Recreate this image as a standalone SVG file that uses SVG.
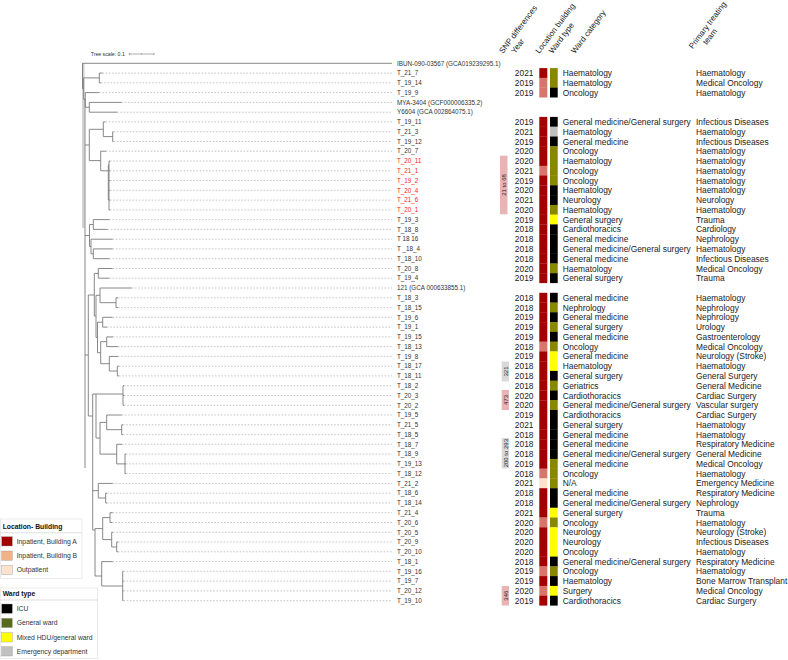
<svg xmlns="http://www.w3.org/2000/svg" width="788" height="660" viewBox="0 0 788 660">
<style>
text{font-family:"Liberation Sans",Arial,sans-serif}
.br{stroke:#7a7a7a;stroke-width:0.9;fill:none}
.bg{stroke:#cfcfcf;stroke-width:2.4;fill:none}
.ld{stroke:#b8b8b8;stroke-width:0.8;stroke-dasharray:1.6 1.6;fill:none}
.lab{font-size:6.3px;fill:#333}
.red{fill:#ff1a1a}
.tb{font-size:8.4px;fill:#222}
.yr{text-anchor:end}
.hd{font-size:8px;fill:#222}
.A{fill:#a30000}.B{fill:#d5776c}.O{fill:#fde3cd}
.icu{fill:#000}.gw{fill:#878700}.hdu{fill:#ffff00}.ed{fill:#c0c0c0}
.snp{font-size:6px;fill:#222;text-anchor:middle}
.lg{font-size:6.8px;fill:#333}
.lgt{font-size:6.8px;font-weight:bold;fill:#111}
.sw{stroke:#999;stroke-width:0.4}
</style>
<rect width="788" height="660" fill="#fff"/>

<!-- tree scale -->
<g id="tree-scale">
<text x="90.7" y="55.6" style="font-size:5.2px;fill:#333">Tree scale: 0.1</text>
<path d="M129.3,54H154M129.3,52.8V55.2M141.6,53.3V54.7M154,52.8V55.2" stroke="#777" stroke-width="0.6" fill="none"/>
</g>

<!-- headers -->
<g id="headers" class="hd">
<text transform="translate(503,54) rotate(-53)">SNP differences</text>
<text transform="translate(515,54) rotate(-53)">Year</text>
<text transform="translate(539.3,54) rotate(-53)">Location building</text>
<text transform="translate(552.7,54) rotate(-53)">Ward type</text>
<text transform="translate(575,54) rotate(-53)">Ward  category</text>
<text transform="translate(692.7,49.3) rotate(-53)">Primary treating<tspan x="11.6" dy="8.8">team</tspan></text>
</g>

<!-- connectors: tree branches -->
<g id="connectors">
<path class="bg" d="M83.3,63.3V228"/>
<path class="br" d="M82.5,63.3H392M82.5,63.3V88.6M82.5,88.6H83.7
M83.7,77.9V99.3M83.7,77.9H99.3M99.3,73.1V82.8M99.3,73.1H102.5M99.3,82.8H101
M83.7,99.3H85.3M85.3,92.6V107.3M85.3,92.6H99.3
M85.3,107.3H89.3M89.3,102.4V112.2M89.3,102.4H121.7M89.3,112.2H117.3
M85,99.3V468
M85,145H89.3M89.3,129.3V160.6
M89.3,129.3H103.3M103.3,121.9V136.6M103.3,121.9H105.5M103.3,136.6H112.7M112.7,131.7V141.5M112.7,131.7H113.5M112.7,141.5H113.5
M89.3,160.6H100.7M100.7,151.2V170.8M100.7,151.2H106M100.7,170.8H108.3M108.3,165V200M108.3,165H109M108.3,200H109M109,161V209.9
M109,161H110M109,170.8H110M109,180.5H110M109,190.3H110M109,200.1H110M109,209.9H110
M85,235.5H89.5M89.5,224.5V246.5M89.5,224.5H93.3M93.3,219.6V229.4M93.3,219.6H109.3M93.3,229.4H107.7
M89.5,246.5H91M91,239.2V253.8M91,239.2H112.7M91,253.8H93.3M93.3,248.9V258.7M93.3,248.9H112.7M93.3,258.7H109.3
M85,355H88.3M88.3,295V416M88.3,295H94.3M94.3,273.4V316M94.3,273.4H98.3M98.3,268.5V278.2M98.3,268.5H112.7M98.3,278.2H109.3
M94.3,316H96M96,295.3V337.5M96,295.3H100M100,288V302.7M100,288H131.7M100,302.7H116M116,297.8V307.6M116,297.8H118M116,307.6H118
M96,337.5H97.5M97.5,322.2V352.7M97.5,322.2H102.7M102.7,317.3V327.1M102.7,317.3H112.7M102.7,327.1H107
M97.5,352.7H100.7M100.7,341.7V363.7M100.7,341.7H106.7M106.7,336.9V346.6M106.7,336.9H113M106.7,346.6H118
M100.7,363.7H109.3M109.3,356.4V371M109.3,356.4H118M109.3,371H117.3M117.3,366.2V375.9M117.3,366.2H119M117.3,375.9H119
M88.3,416H92.7M92.7,394V530M92.7,394H96M96,394V438
M96,394H123M123,385.7V405.3M123,385.7H124M123,395.5H124M123,405.3H124
M96,438H100M100,422.4V454.1
M100,422.4H106.7M106.7,415V429.7M106.7,415H121.7M106.7,429.7H121.7M121.7,424.8V434.6M121.7,424.8H123M121.7,434.6H123
M100,454.1H116.7M116.7,444.3V463.9M116.7,444.3H122M116.7,463.9H125M125,454.1V473.6M125,454.1H126M125,463.9H126M125,473.6H126
M92.7,490.7H98.3M98.3,483.4V498M98.3,483.4H112.7M98.3,498H105.7M105.7,493.2V503M105.7,493.2H107M105.7,503H107
M92.7,530H95M95,528.6V576M95,528.6H102.7M102.7,517.6V539.6M102.7,517.6H110M110,512.7V522.5M110,512.7H112.7M110,522.5H112
M102.7,539.6H111.7M111.7,532.3V547M111.7,532.3H113M111.7,547H116.7M116.7,542V551.8M116.7,542H118M116.7,551.8H118
M95,576H101.7M101.7,561.6V586M101.7,561.6H112.7M101.7,586H122.7M122.7,571.3V600.7
M122.7,571.3H123.5M122.7,581.1H123.5M122.7,590.9H123.5M122.7,600.7H123.5"/>
<path class="ld" d="M102.5,73.1H392M101,82.8H392M99.3,92.6H392M121.7,102.4H392M117.3,112.2H392
M105.5,121.9H392M113.5,131.7H392M113.5,141.5H392M106,151.2H392M110,161H392M110,170.8H392M110,180.5H392M110,190.3H392M110,200.1H392M110,209.9H392
M109.3,219.6H392M107.7,229.4H392M112.7,239.2H392M112.7,248.9H392M109.3,258.7H392M112.7,268.5H392M109.3,278.2H392M131.7,288H392
M118,297.8H392M118,307.6H392M112.7,317.3H392M107,327.1H392M113,336.9H392M118,346.6H392M118,356.4H392M119,366.2H392M119,375.9H392
M124,385.7H392M124,395.5H392M124,405.3H392M121.7,415H392M123,424.8H392M123,434.6H392M122,444.3H392M126,454.1H392M126,463.9H392M126,473.6H392
M112.7,483.4H392M107,493.2H392M107,503H392M112.7,512.7H392M112,522.5H392M113,532.3H392M118,542H392M118,551.8H392
M112.7,561.6H392M123.5,571.3H392M123.5,581.1H392M123.5,590.9H392M123.5,600.7H392"/>
</g>

<!-- leaf labels -->
<g id="leaves" class="lab">
<g id="n-IBUN"><text x="397" y="65.5">IBUN-090-03567 (GCA019239295.1)</text></g>
<g id="n-T_21_7"><text x="397" y="75.3">T_21_7</text></g>
<g id="n-T_19_14"><text x="397" y="85">T_19_14</text></g>
<g id="n-T_19_9"><text x="397" y="94.8">T_19_9</text></g>
<g id="n-MYA-3404"><text x="397" y="104.6">MYA-3404 (GCF000006335.2)</text></g>
<g id="n-Y6604"><text x="397" y="114.4">Y6604 (GCA 002864075.1)</text></g>
<g id="n-T_19_11"><text x="397" y="124.1">T_19_11</text></g>
<g id="n-T_21_3"><text x="397" y="133.9">T_21_3</text></g>
<g id="n-T_19_12"><text x="397" y="143.7">T_19_12</text></g>
<g id="n-T_20_7"><text x="397" y="153.4">T_20_7</text></g>
<g id="n-T_20_11"><text class="red" x="397" y="163.2">T_20_11</text></g>
<g id="n-T_21_1"><text class="red" x="397" y="173">T_21_1</text></g>
<g id="n-T_19_2"><text class="red" x="397" y="182.7">T_19_2</text></g>
<g id="n-T_20_4"><text class="red" x="397" y="192.5">T_20_4</text></g>
<g id="n-T_21_6"><text class="red" x="397" y="202.3">T_21_6</text></g>
<g id="n-T_20_1"><text class="red" x="397" y="212.1">T_20_1</text></g>
<g id="n-T_19_3"><text x="397" y="221.8">T_19_3</text></g>
<g id="n-T_18_8"><text x="397" y="231.6">T_18_8</text></g>
<g id="n-T_18_16"><text x="397" y="241.4">T 18 16</text></g>
<g id="n-T_18_4"><text x="397" y="251.1">T _18_4</text></g>
<g id="n-T_18_10"><text x="397" y="260.9">T_18_10</text></g>
<g id="n-T_20_8"><text x="397" y="270.7">T_20_8</text></g>
<g id="n-T_19_4"><text x="397" y="280.4">T_19_4</text></g>
<g id="n-121"><text x="397" y="290.2">121 (GCA 000633855.1)</text></g>
<g id="n-T_18_3"><text x="397" y="300">T_18_3</text></g>
<g id="n-T_18_15"><text x="397" y="309.8">T_18_15</text></g>
<g id="n-T_19_6"><text x="397" y="319.5">T_19_6</text></g>
<g id="n-T_19_1"><text x="397" y="329.3">T_19_1</text></g>
<g id="n-T_19_15"><text x="397" y="339.1">T_19_15</text></g>
<g id="n-T_18_13"><text x="397" y="348.8">T_18_13</text></g>
<g id="n-T_19_8"><text x="397" y="358.6">T_19_8</text></g>
<g id="n-T_18_17"><text x="397" y="368.4">T_18_17</text></g>
<g id="n-T_18_11"><text x="397" y="378.1">T_18_11</text></g>
<g id="n-T_18_2"><text x="397" y="387.9">T_18_2</text></g>
<g id="n-T_20_3"><text x="397" y="397.7">T_20_3</text></g>
<g id="n-T_20_2"><text x="397" y="407.5">T_20_2</text></g>
<g id="n-T_19_5"><text x="397" y="417.2">T_19_5</text></g>
<g id="n-T_21_5"><text x="397" y="427">T_21_5</text></g>
<g id="n-T_18_5"><text x="397" y="436.8">T_18_5</text></g>
<g id="n-T_18_7"><text x="397" y="446.5">T_18_7</text></g>
<g id="n-T_18_9"><text x="397" y="456.3">T_18_9</text></g>
<g id="n-T_19_13"><text x="397" y="466.1">T_19_13</text></g>
<g id="n-T_18_12"><text x="397" y="475.8">T_18_12</text></g>
<g id="n-T_21_2"><text x="397" y="485.6">T_21_2</text></g>
<g id="n-T_18_6"><text x="397" y="495.4">T_18_6</text></g>
<g id="n-T_18_14"><text x="397" y="505.2">T_18_14</text></g>
<g id="n-T_21_4"><text x="397" y="514.9">T_21_4</text></g>
<g id="n-T_20_6"><text x="397" y="524.7">T_20_6</text></g>
<g id="n-T_20_5"><text x="397" y="534.5">T_20_5</text></g>
<g id="n-T_20_9"><text x="397" y="544.2">T_20_9</text></g>
<g id="n-T_20_10"><text x="397" y="554">T_20_10</text></g>
<g id="n-T_18_1"><text x="397" y="563.8">T_18_1</text></g>
<g id="n-T_19_16"><text x="397" y="573.5">T_19_16</text></g>
<g id="n-T_19_7"><text x="397" y="583.3">T_19_7</text></g>
<g id="n-T_20_12"><text x="397" y="593.1">T_20_12</text></g>
<g id="n-T_19_10"><text x="397" y="602.9">T_19_10</text></g>
</g>

<!-- SNP difference boxes -->
<g id="snp">
<rect x="500" y="155.7" width="7.5" height="58.6" fill="#e8b4b4"/>
<text class="snp" transform="translate(505.9,185) rotate(-90)">21 to 68</text>
<rect x="501.7" y="361.5" width="7.3" height="20" fill="#d9d9d9"/>
<text class="snp" transform="translate(507.5,371.5) rotate(-90)">321</text>
<rect x="501.7" y="390" width="7.3" height="20" fill="#e8b4b4"/>
<text class="snp" transform="translate(507.5,400) rotate(-90)">473</text>
<rect x="501.7" y="438" width="7.3" height="30.4" fill="#d9d9d9"/>
<text class="snp" transform="translate(507.5,453.2) rotate(-90)">200 to 293</text>
<rect x="501.7" y="586" width="7.3" height="19.5" fill="#e8b4b4"/>
<text class="snp" transform="translate(507.5,595.7) rotate(-90)">346</text>
</g>

<!-- data table -->
<g id="table" class="tb">
<g id="r-T_21_7" transform="translate(0,73.1)"><rect class="A" x="539.3" y="-5" width="8" height="10"/><rect class="gw" x="550" y="-5" width="7.7" height="10"/><text class="yr" x="533.5" y="3">2021</text><text x="562.7" y="3">Haematology</text><text x="696" y="3">Haematology</text></g>
<g id="r-T_19_14" transform="translate(0,82.8)"><rect class="B" x="539.3" y="-5" width="8" height="10"/><rect class="gw" x="550" y="-5" width="7.7" height="10"/><text class="yr" x="533.5" y="3">2019</text><text x="562.7" y="3">Haematology</text><text x="696" y="3">Medical Oncology</text></g>
<g id="r-T_19_9" transform="translate(0,92.6)"><rect class="B" x="539.3" y="-5" width="8" height="9.9"/><rect class="icu" x="550" y="-5" width="7.7" height="9.9"/><text class="yr" x="533.5" y="3">2019</text><text x="562.7" y="3">Oncology</text><text x="696" y="3">Haematology</text></g>

<g id="r-T_19_11" transform="translate(0,121.9)"><rect class="A" x="539.3" y="-5" width="8" height="10"/><rect class="icu" x="550" y="-5" width="7.7" height="10"/><text class="yr" x="533.5" y="3">2019</text><text x="562.7" y="3">General medicine/General surgery</text><text x="696" y="3">Infectious Diseases</text></g>
<g id="r-T_21_3" transform="translate(0,131.7)"><rect class="A" x="539.3" y="-5" width="8" height="10"/><rect class="ed" x="550" y="-5" width="7.7" height="10"/><text class="yr" x="533.5" y="3">2021</text><text x="562.7" y="3">Haematology</text><text x="696" y="3">Haematology</text></g>
<g id="r-T_19_12" transform="translate(0,141.5)"><rect class="A" x="539.3" y="-5" width="8" height="10"/><rect class="icu" x="550" y="-5" width="7.7" height="10"/><text class="yr" x="533.5" y="3">2019</text><text x="562.7" y="3">General medicine</text><text x="696" y="3">Infectious Diseases</text></g>
<g id="r-T_20_7" transform="translate(0,151.2)"><rect class="A" x="539.3" y="-5" width="8" height="10"/><rect class="gw" x="550" y="-5" width="7.7" height="10"/><text class="yr" x="533.5" y="3">2020</text><text x="562.7" y="3">Oncology</text><text x="696" y="3">Haematology</text></g>
<g id="r-T_20_11" transform="translate(0,161)"><rect class="A" x="539.3" y="-5" width="8" height="10"/><rect class="gw" x="550" y="-5" width="7.7" height="10"/><text class="yr" x="533.5" y="3">2020</text><text x="562.7" y="3">Haematology</text><text x="696" y="3">Haematology</text></g>
<g id="r-T_21_1" transform="translate(0,170.8)"><rect class="B" x="539.3" y="-5" width="8" height="10"/><rect class="gw" x="550" y="-5" width="7.7" height="10"/><text class="yr" x="533.5" y="3">2021</text><text x="562.7" y="3">Oncology</text><text x="696" y="3">Haematology</text></g>
<g id="r-T_19_2" transform="translate(0,180.5)"><rect class="A" x="539.3" y="-5" width="8" height="10"/><rect class="gw" x="550" y="-5" width="7.7" height="10"/><text class="yr" x="533.5" y="3">2019</text><text x="562.7" y="3">Oncology</text><text x="696" y="3">Haematology</text></g>
<g id="r-T_20_4" transform="translate(0,190.3)"><rect class="A" x="539.3" y="-5" width="8" height="10"/><rect class="icu" x="550" y="-5" width="7.7" height="10"/><text class="yr" x="533.5" y="3">2020</text><text x="562.7" y="3">Haematology</text><text x="696" y="3">Haematology</text></g>
<g id="r-T_21_6" transform="translate(0,200.1)"><rect class="A" x="539.3" y="-5" width="8" height="10"/><rect class="icu" x="550" y="-5" width="7.7" height="10"/><text class="yr" x="533.5" y="3">2021</text><text x="562.7" y="3">Neurology</text><text x="696" y="3">Neurology</text></g>
<g id="r-T_20_1" transform="translate(0,209.9)"><rect class="A" x="539.3" y="-5" width="8" height="10"/><rect class="gw" x="550" y="-5" width="7.7" height="10"/><text class="yr" x="533.5" y="3">2020</text><text x="562.7" y="3">Haematology</text><text x="696" y="3">Haematology</text></g>
<g id="r-T_19_3" transform="translate(0,219.6)"><rect class="A" x="539.3" y="-5" width="8" height="10"/><rect class="hdu" x="550" y="-5" width="7.7" height="10"/><text class="yr" x="533.5" y="3">2019</text><text x="562.7" y="3">General surgery</text><text x="696" y="3">Trauma</text></g>
<g id="r-T_18_8" transform="translate(0,229.4)"><rect class="A" x="539.3" y="-5" width="8" height="10"/><rect class="icu" x="550" y="-5" width="7.7" height="10"/><text class="yr" x="533.5" y="3">2018</text><text x="562.7" y="3">Cardiothoracics</text><text x="696" y="3">Cardiology</text></g>
<g id="r-T_18_16" transform="translate(0,239.2)"><rect class="A" x="539.3" y="-5" width="8" height="10"/><rect class="icu" x="550" y="-5" width="7.7" height="10"/><text class="yr" x="533.5" y="3">2018</text><text x="562.7" y="3">General medicine</text><text x="696" y="3">Nephrology</text></g>
<g id="r-T_18_4" transform="translate(0,248.9)"><rect class="A" x="539.3" y="-5" width="8" height="10"/><rect class="icu" x="550" y="-5" width="7.7" height="10"/><text class="yr" x="533.5" y="3">2018</text><text x="562.7" y="3">General medicine/General surgery</text><text x="696" y="3">Haematology</text></g>
<g id="r-T_18_10" transform="translate(0,258.7)"><rect class="A" x="539.3" y="-5" width="8" height="10"/><rect class="icu" x="550" y="-5" width="7.7" height="10"/><text class="yr" x="533.5" y="3">2018</text><text x="562.7" y="3">General medicine</text><text x="696" y="3">Infectious Diseases</text></g>
<g id="r-T_20_8" transform="translate(0,268.5)"><rect class="A" x="539.3" y="-5" width="8" height="10"/><rect class="gw" x="550" y="-5" width="7.7" height="10"/><text class="yr" x="533.5" y="3">2020</text><text x="562.7" y="3">Haematology</text><text x="696" y="3">Medical Oncology</text></g>
<g id="r-T_19_4" transform="translate(0,278.2)"><rect class="A" x="539.3" y="-5" width="8" height="9.9"/><rect class="icu" x="550" y="-5" width="7.7" height="9.9"/><text class="yr" x="533.5" y="3">2019</text><text x="562.7" y="3">General surgery</text><text x="696" y="3">Trauma</text></g>

<g id="r-T_18_3" transform="translate(0,297.8)"><rect class="A" x="539.3" y="-5" width="8" height="10"/><rect class="icu" x="550" y="-5" width="7.7" height="10"/><text class="yr" x="533.5" y="3">2018</text><text x="562.7" y="3">General medicine</text><text x="696" y="3">Haematology</text></g>
<g id="r-T_18_15" transform="translate(0,307.6)"><rect class="A" x="539.3" y="-5" width="8" height="10"/><rect class="gw" x="550" y="-5" width="7.7" height="10"/><text class="yr" x="533.5" y="3">2018</text><text x="562.7" y="3">Nephrology</text><text x="696" y="3">Nephrology</text></g>
<g id="r-T_19_6" transform="translate(0,317.3)"><rect class="A" x="539.3" y="-5" width="8" height="10"/><rect class="icu" x="550" y="-5" width="7.7" height="10"/><text class="yr" x="533.5" y="3">2019</text><text x="562.7" y="3">General medicine</text><text x="696" y="3">Nephrology</text></g>
<g id="r-T_19_1" transform="translate(0,327.1)"><rect class="A" x="539.3" y="-5" width="8" height="10"/><rect class="gw" x="550" y="-5" width="7.7" height="10"/><text class="yr" x="533.5" y="3">2019</text><text x="562.7" y="3">General surgery</text><text x="696" y="3">Urology</text></g>
<g id="r-T_19_15" transform="translate(0,336.9)"><rect class="A" x="539.3" y="-5" width="8" height="10"/><rect class="icu" x="550" y="-5" width="7.7" height="10"/><text class="yr" x="533.5" y="3">2019</text><text x="562.7" y="3">General medicine</text><text x="696" y="3">Gastroenterology</text></g>
<g id="r-T_18_13" transform="translate(0,346.6)"><rect class="B" x="539.3" y="-5" width="8" height="10"/><rect class="gw" x="550" y="-5" width="7.7" height="10"/><text class="yr" x="533.5" y="3">2018</text><text x="562.7" y="3">Oncology</text><text x="696" y="3">Medical Oncology</text></g>
<g id="r-T_19_8" transform="translate(0,356.4)"><rect class="A" x="539.3" y="-5" width="8" height="10"/><rect class="hdu" x="550" y="-5" width="7.7" height="10"/><text class="yr" x="533.5" y="3">2019</text><text x="562.7" y="3">General medicine</text><text x="696" y="3">Neurology (Stroke)</text></g>
<g id="r-T_18_17" transform="translate(0,366.2)"><rect class="A" x="539.3" y="-5" width="8" height="10"/><rect class="hdu" x="550" y="-5" width="7.7" height="10"/><text class="yr" x="533.5" y="3">2018</text><text x="562.7" y="3">Haematology</text><text x="696" y="3">Haematology</text></g>
<g id="r-T_18_11" transform="translate(0,375.9)"><rect class="A" x="539.3" y="-5" width="8" height="10"/><rect class="icu" x="550" y="-5" width="7.7" height="10"/><text class="yr" x="533.5" y="3">2018</text><text x="562.7" y="3">General surgery</text><text x="696" y="3">General Surgery</text></g>
<g id="r-T_18_2" transform="translate(0,385.7)"><rect class="A" x="539.3" y="-5" width="8" height="10"/><rect class="gw" x="550" y="-5" width="7.7" height="10"/><text class="yr" x="533.5" y="3">2018</text><text x="562.7" y="3">Geriatrics</text><text x="696" y="3">General Medicine</text></g>
<g id="r-T_20_3" transform="translate(0,395.5)"><rect class="A" x="539.3" y="-5" width="8" height="10"/><rect class="icu" x="550" y="-5" width="7.7" height="10"/><text class="yr" x="533.5" y="3">2020</text><text x="562.7" y="3">Cardiothoracics</text><text x="696" y="3">Cardiac Surgery</text></g>
<g id="r-T_20_2" transform="translate(0,405.3)"><rect class="A" x="539.3" y="-5" width="8" height="10"/><rect class="gw" x="550" y="-5" width="7.7" height="10"/><text class="yr" x="533.5" y="3">2020</text><text x="562.7" y="3">General medicine/General surgery</text><text x="696" y="3">Vascular surgery</text></g>
<g id="r-T_19_5" transform="translate(0,415)"><rect class="A" x="539.3" y="-5" width="8" height="10"/><rect class="icu" x="550" y="-5" width="7.7" height="10"/><text class="yr" x="533.5" y="3">2019</text><text x="562.7" y="3">Cardiothoracics</text><text x="696" y="3">Cardiac Surgery</text></g>
<g id="r-T_21_5" transform="translate(0,424.8)"><rect class="A" x="539.3" y="-5" width="8" height="10"/><rect class="icu" x="550" y="-5" width="7.7" height="10"/><text class="yr" x="533.5" y="3">2021</text><text x="562.7" y="3">General surgery</text><text x="696" y="3">Haematology</text></g>
<g id="r-T_18_5" transform="translate(0,434.6)"><rect class="A" x="539.3" y="-5" width="8" height="10"/><rect class="icu" x="550" y="-5" width="7.7" height="10"/><text class="yr" x="533.5" y="3">2018</text><text x="562.7" y="3">General medicine</text><text x="696" y="3">Haematology</text></g>
<g id="r-T_18_7" transform="translate(0,444.3)"><rect class="A" x="539.3" y="-5" width="8" height="10"/><rect class="icu" x="550" y="-5" width="7.7" height="10"/><text class="yr" x="533.5" y="3">2018</text><text x="562.7" y="3">General medicine</text><text x="696" y="3">Respiratory Medicine</text></g>
<g id="r-T_18_9" transform="translate(0,454.1)"><rect class="A" x="539.3" y="-5" width="8" height="10"/><rect class="icu" x="550" y="-5" width="7.7" height="10"/><text class="yr" x="533.5" y="3">2018</text><text x="562.7" y="3">General medicine/General surgery</text><text x="696" y="3">General Medicine</text></g>
<g id="r-T_19_13" transform="translate(0,463.9)"><rect class="A" x="539.3" y="-5" width="8" height="10"/><rect class="gw" x="550" y="-5" width="7.7" height="10"/><text class="yr" x="533.5" y="3">2019</text><text x="562.7" y="3">General medicine</text><text x="696" y="3">Medical Oncology</text></g>
<g id="r-T_18_12" transform="translate(0,473.6)"><rect class="B" x="539.3" y="-5" width="8" height="10"/><rect class="gw" x="550" y="-5" width="7.7" height="10"/><text class="yr" x="533.5" y="3">2018</text><text x="562.7" y="3">Oncology</text><text x="696" y="3">Haematology</text></g>
<g id="r-T_21_2" transform="translate(0,483.4)"><rect class="O" x="539.3" y="-5" width="8" height="10"/><rect class="gw" x="550" y="-5" width="7.7" height="10"/><text class="yr" x="533.5" y="3">2021</text><text x="562.7" y="3">N/A</text><text x="696" y="3">Emergency Medicine</text></g>
<g id="r-T_18_6" transform="translate(0,493.2)"><rect class="A" x="539.3" y="-5" width="8" height="10"/><rect class="icu" x="550" y="-5" width="7.7" height="10"/><text class="yr" x="533.5" y="3">2018</text><text x="562.7" y="3">General medicine</text><text x="696" y="3">Respiratory Medicine</text></g>
<g id="r-T_18_14" transform="translate(0,503)"><rect class="A" x="539.3" y="-5" width="8" height="10"/><rect class="icu" x="550" y="-5" width="7.7" height="10"/><text class="yr" x="533.5" y="3">2018</text><text x="562.7" y="3">General medicine/General surgery</text><text x="696" y="3">Nephrology</text></g>
<g id="r-T_21_4" transform="translate(0,512.7)"><rect class="A" x="539.3" y="-5" width="8" height="10"/><rect class="hdu" x="550" y="-5" width="7.7" height="10"/><text class="yr" x="533.5" y="3">2021</text><text x="562.7" y="3">General surgery</text><text x="696" y="3">Trauma</text></g>
<g id="r-T_20_6" transform="translate(0,522.5)"><rect class="B" x="539.3" y="-5" width="8" height="10"/><rect class="gw" x="550" y="-5" width="7.7" height="10"/><text class="yr" x="533.5" y="3">2020</text><text x="562.7" y="3">Oncology</text><text x="696" y="3">Haematology</text></g>
<g id="r-T_20_5" transform="translate(0,532.3)"><rect class="A" x="539.3" y="-5" width="8" height="10"/><rect class="hdu" x="550" y="-5" width="7.7" height="10"/><text class="yr" x="533.5" y="3">2020</text><text x="562.7" y="3">Neurology</text><text x="696" y="3">Neurology (Stroke)</text></g>
<g id="r-T_20_9" transform="translate(0,542)"><rect class="A" x="539.3" y="-5" width="8" height="10"/><rect class="hdu" x="550" y="-5" width="7.7" height="10"/><text class="yr" x="533.5" y="3">2020</text><text x="562.7" y="3">Neurology</text><text x="696" y="3">Infectious Diseases</text></g>
<g id="r-T_20_10" transform="translate(0,551.8)"><rect class="A" x="539.3" y="-5" width="8" height="10"/><rect class="hdu" x="550" y="-5" width="7.7" height="10"/><text class="yr" x="533.5" y="3">2020</text><text x="562.7" y="3">Oncology</text><text x="696" y="3">Haematology</text></g>
<g id="r-T_18_1" transform="translate(0,561.6)"><rect class="A" x="539.3" y="-5" width="8" height="10"/><rect class="icu" x="550" y="-5" width="7.7" height="10"/><text class="yr" x="533.5" y="3">2018</text><text x="562.7" y="3">General medicine/General surgery</text><text x="696" y="3">Respiratory Medicine</text></g>
<g id="r-T_19_16" transform="translate(0,571.3)"><rect class="B" x="539.3" y="-5" width="8" height="10"/><rect class="gw" x="550" y="-5" width="7.7" height="10"/><text class="yr" x="533.5" y="3">2019</text><text x="562.7" y="3">Oncology</text><text x="696" y="3">Haematology</text></g>
<g id="r-T_19_7" transform="translate(0,581.1)"><rect class="A" x="539.3" y="-5" width="8" height="10"/><rect class="icu" x="550" y="-5" width="7.7" height="10"/><text class="yr" x="533.5" y="3">2019</text><text x="562.7" y="3">Haematology</text><text x="696" y="3">Bone Marrow Transplant</text></g>
<g id="r-T_20_12" transform="translate(0,590.9)"><rect class="B" x="539.3" y="-5" width="8" height="10"/><rect class="hdu" x="550" y="-5" width="7.7" height="10"/><text class="yr" x="533.5" y="3">2020</text><text x="562.7" y="3">Surgery</text><text x="696" y="3">Medical Oncology</text></g>
<g id="r-T_19_10" transform="translate(0,600.7)"><rect class="A" x="539.3" y="-5" width="8" height="9.9"/><rect class="icu" x="550" y="-5" width="7.7" height="9.9"/><text class="yr" x="533.5" y="3">2019</text><text x="562.7" y="3">Cardiothoracics</text><text x="696" y="3">Cardiac Surgery</text></g>
</g>

<!-- legends -->
<g id="legend-location">
<rect x="0.5" y="519" width="81.5" height="59.5" fill="#fff" stroke="#e3e3e3" stroke-width="0.7"/>
<text class="lgt" x="2.7" y="529.3">Location- Building</text>
<line x1="0.5" y1="532.8" x2="82" y2="532.8" stroke="#c8c8c8" stroke-width="0.6"/>
<rect class="sw" x="1.7" y="536.7" width="10.6" height="9.3" fill="#a30000"/>
<text class="lg" x="16.7" y="543.8">Inpatient, Building A</text>
<rect class="sw" x="1.7" y="551" width="10.6" height="9.3" fill="#f4b183"/>
<text class="lg" x="16.7" y="558.1">Inpatient, Building B</text>
<rect class="sw" x="1.7" y="565.3" width="10.6" height="9.3" fill="#fde3cd"/>
<text class="lg" x="16.7" y="572.4">Outpatient</text>
</g>
<g id="legend-ward">
<rect x="0.5" y="588" width="97" height="70.5" fill="#fff" stroke="#e3e3e3" stroke-width="0.7"/>
<text class="lgt" x="2.7" y="596">Ward type</text>
<line x1="0.5" y1="600" x2="97.5" y2="600" stroke="#c8c8c8" stroke-width="0.6"/>
<rect class="sw" x="1.7" y="604" width="10.6" height="9.3" fill="#000"/>
<text class="lg" x="16.7" y="611">ICU</text>
<rect class="sw" x="1.7" y="618.3" width="10.6" height="9.3" fill="#5a6a1c"/>
<text class="lg" x="16.7" y="625.3">General ward</text>
<rect class="sw" x="1.7" y="632.7" width="10.6" height="9.3" fill="#ffff00"/>
<text class="lg" x="16.7" y="639.7">Mixed HDU/general ward</text>
<rect class="sw" x="1.7" y="646.7" width="10.6" height="9.3" fill="#c0c0c0"/>
<text class="lg" x="16.7" y="653.7">Emergency department</text>
</g>
</svg>
